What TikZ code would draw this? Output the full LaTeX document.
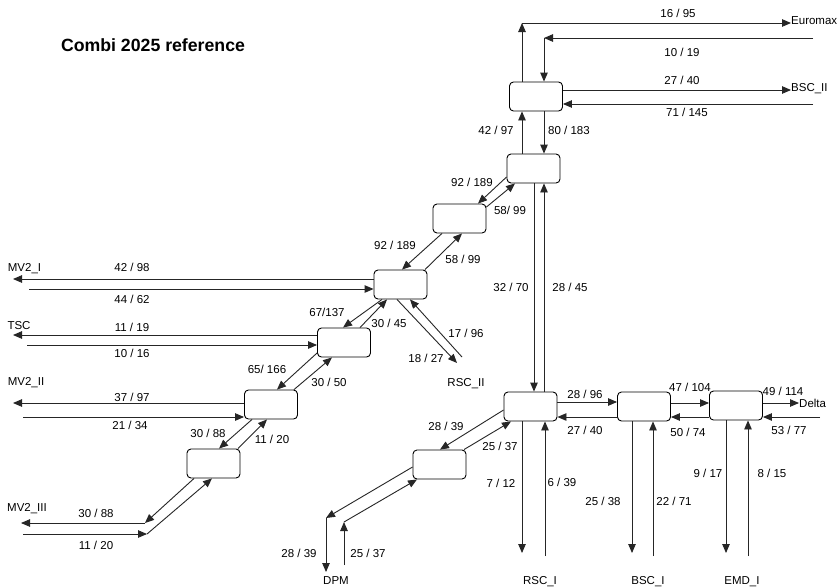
\documentclass[tikz,border=0pt]{standalone}
\usepackage{fontspec}
\setmainfont{Liberation Sans}
\usetikzlibrary{arrows.meta}
\begin{document}
\begin{tikzpicture}[x=1pt,y=-1pt,
  blk/.style={draw=black, line width=0.9pt, rounded corners=4pt, fill=white, minimum width=53pt, minimum height=29pt, inner sep=0pt},
  arr/.style={draw=black!85, line width=0.9pt, -{Triangle[length=9pt,width=7.5pt]}},
  ln/.style={draw=black!85, line width=0.9pt},
  lbl/.style={inner sep=0pt, text height=8.2pt, text depth=0pt, font=\fontsize{11.5}{13}\selectfont},
  ttl/.style={inner sep=0pt, text height=12.7pt, text depth=0pt, font=\bfseries\fontsize{17.7}{20}\selectfont}]
\useasboundingbox[fill=white] (0,0) rectangle (840,587);

% boxes
\node[blk] (A) at (536,96.5) {};
\node[blk] (B) at (533.5,168.5) {};
\node[blk] (C) at (459.5,218.5) {};
\node[blk] (D) at (400.5,284.5) {};
\node[blk] (E) at (344,342.5) {};
\node[blk] (F) at (271,404.5) {};
\node[blk] (G) at (213.5,463.5) {};
\node[blk] (H) at (530.5,406.5) {};
\node[blk] (I) at (439.5,464.5) {};
\node[blk] (J) at (644,406.5) {};
\node[blk] (K) at (736,405.5) {};

% terminal names
\node[ttl] (title) at (153,45) {Combi 2025 reference};
\node[lbl, anchor=west] (euromax) at (791,20) {Euromax};
\node[lbl, anchor=west] (bscii) at (791,87) {BSC\_II};
\node[lbl, anchor=west] (delta) at (799,403) {Delta};
\node[lbl] (mv2i) at (24.5,267) {MV2\_I};
\node[lbl] (tsc) at (19,325) {TSC};
\node[lbl] (mv2ii) at (26,381) {MV2\_II};
\node[lbl] (mv2iii) at (27,507) {MV2\_III};
\node[lbl] (rscii) at (466,382) {RSC\_II};
\node[lbl] (dpm) at (336,580) {DPM};
\node[lbl] (rsci) at (540,580) {RSC\_I};
\node[lbl] (bsci) at (648,580) {BSC\_I};
\node[lbl] (emdi) at (742,580) {EMD\_I};

% coordinates
\coordinate (c16) at (522,23);
\coordinate (r10) at (813,38);
\coordinate (c10) at (544,38);
\coordinate (r71) at (813,104);
\coordinate (x522) at (522,0);
\coordinate (x544) at (544,0);
\coordinate (x534) at (534,0);
\coordinate (rs1) at (457,363);
\coordinate (rs2) at (462,357);
\coordinate (m1a) at (13,279);
\coordinate (m1b) at (29,289);
\coordinate (t1a) at (13,335);
\coordinate (t1b) at (27,345);
\coordinate (m2a) at (13,403);
\coordinate (m2b) at (23,417);
\coordinate (m3a) at (21,523);
\coordinate (m3b) at (23,534);
\coordinate (m3c) at (145,523);
\coordinate (m3d) at (147,534);
\coordinate (d1) at (326,518);
\coordinate (d2) at (326,572);
\coordinate (d3) at (344,565);
\coordinate (d4) at (344,522);
\coordinate (r1) at (522,553);
\coordinate (r2) at (545,556);
\coordinate (hy1) at (0,402);
\coordinate (hy2) at (0,417);
\coordinate (hy3) at (0,403);
\coordinate (dl2) at (820,417);
\coordinate (b1) at (632,553);
\coordinate (b2) at (653,556);
\coordinate (e1) at (726,553);
\coordinate (e2) at (748,556);

% top connectors
\draw[arr] (A.north -| c16) -- (c16);
\draw[arr] (c16) -- (c16 -| euromax.west);
\draw[arr] (r10) -- (c10);
\draw[arr] (c10) -- (A.north -| c10);
\draw[arr] ([yshift=6.5pt]A.east) -- ([yshift=6.5pt]A.east -| bscii.west);
\draw[arr] (r71) -- (A.east |- r71);
\draw[arr] (B.north -| x522) -- (A.south -| x522);
\draw[arr] (A.south -| x544) -- (B.north -| x544);

% B - C
\draw[arr] ([shift={(0,8.5)}]B.west) -- ([shift={(18.5,0)}]C.north);
\draw[arr] ([shift={(0,-11.5)}]C.east) -- ([shift={(-18.5,0)}]B.south);
% C - D
\draw[arr] ([shift={(-17.5,0)}]C.south) -- ([shift={(1.5,0)}]D.north);
\draw[arr] ([shift={(24.5,0)}]D.north) -- ([shift={(2.5,0)}]C.south);
% D - RSC_II
\draw[arr] ([shift={(-3.5,0)}]D.south) -- (rs1);
\draw[arr] (rs2) -- ([shift={(9.5,0)}]D.south);
% MV2_I
\draw[arr] (D.west |- m1a) -- (m1a);
\draw[arr] (m1b) -- (D.west |- m1b);
% TSC
\draw[arr] (E.west |- t1a) -- (t1a);
\draw[arr] (t1b) -- (E.west |- t1b);
% D - E
\draw[arr] ([shift={(-18.5,0)}]D.south) -- ([shift={(-1,0)}]E.north);
\draw[arr] ([shift={(16,0)}]E.north) -- ([shift={(-13.5,0)}]D.south);
% E - F
\draw[arr] ([shift={(0,10.5)}]E.west) -- ([shift={(6,0)}]F.north);
\draw[arr] ([shift={(23,0)}]F.north) -- ([shift={(-12,0)}]E.south);
% MV2_II
\draw[arr] (F.west |- m2a) -- (m2a);
\draw[arr] (m2b) -- (F.west |- m2b);
% F - G
\draw[arr] ([shift={(-19,0)}]F.south) -- ([shift={(5.5,0)}]G.north);
\draw[arr] ([shift={(24.5,0)}]G.north) -- ([shift={(-4,0)}]F.south);
% G - MV2_III
\draw[arr] ([shift={(-19.5,0)}]G.south) -- (m3c);
\draw[arr] (m3c) -- (m3a);
\draw[arr] (m3b) -- (m3d);
\draw[arr] (m3d) -- ([shift={(-1.5,0)}]G.south);
% B - H
\draw[arr] (B.south -| x534) -- (H.north -| x534);
\draw[arr] (H.north -| x544) -- (B.south -| x544);
% H - I
\draw[arr] ([shift={(0,3.5)}]H.west) -- ([shift={(0.5,0)}]I.north);
\draw[arr] ([shift={(24.5,0)}]I.north) -- ([shift={(-19.5,0)}]H.south);
% I - DPM
\draw[arr] ([shift={(0,2.5)}]I.west) -- (d1);
\draw[arr] (d1) -- (d2);
\draw[arr] (d3) -- (d4);
\draw[arr] (d4) -- ([shift={(-22.5,0)}]I.south);
% H - RSC_I
\draw[arr] (H.south -| r1) -- (r1);
\draw[arr] (r2) -- (H.south -| r2);
% H - J
\draw[arr] (H.east |- hy1) -- (J.west |- hy1);
\draw[arr] (J.west |- hy2) -- (H.east |- hy2);
% J - K
\draw[arr] (J.east |- hy3) -- (K.west |- hy3);
\draw[arr] (K.west |- hy2) -- (J.east |- hy2);
% K - Delta
\draw[arr] (K.east |- hy3) -- (hy3 -| delta.west);
\draw[arr] (dl2) -- (K.east |- dl2);
% J - BSC_I
\draw[arr] (J.south -| b1) -- (b1);
\draw[arr] (b2) -- (J.south -| b2);
% K - EMD_I
\draw[arr] (K.south -| e1) -- (e1);
\draw[arr] (e2) -- (K.south -| e2);

% flow labels
\node[lbl] (l1) at (678,13) {16 / 95};
\node[lbl] (l2) at (682,52) {10 / 19};
\node[lbl] (l3) at (682,80) {27 / 40};
\node[lbl] (l4) at (687,112) {71 / 145};
\node[lbl] (l5) at (496,130) {42 / 97};
\node[lbl] (l6) at (569,130) {80 / 183};
\node[lbl] (l7) at (472,182) {92 / 189};
\node[lbl] (l8) at (510,210) {58/ 99};
\node[lbl] (l9) at (395,245) {92 / 189};
\node[lbl] (l10) at (463,259) {58 / 99};
\node[lbl] (l11) at (132,267) {42 / 98};
\node[lbl] (l12) at (132,299) {44 / 62};
\node[lbl] (l13) at (511,287) {32 / 70};
\node[lbl] (l14) at (570,287) {28 / 45};
\node[lbl] (l15) at (327,312) {67/137};
\node[lbl] (l16) at (389,323) {30 / 45};
\node[lbl] (l17) at (466,333) {17 / 96};
\node[lbl] (l18) at (426,358) {18 / 27};
\node[lbl] (l19) at (132,327) {11 / 19};
\node[lbl] (l20) at (132,353) {10 / 16};
\node[lbl] (l21) at (267,369) {65/ 166};
\node[lbl] (l22) at (329,382) {30 / 50};
\node[lbl] (l23) at (132,397) {37 / 97};
\node[lbl] (l24) at (130,425) {21 / 34};
\node[lbl] (l25) at (208,433) {30 / 88};
\node[lbl] (l26) at (272,439) {11 / 20};
\node[lbl] (l27) at (585,394) {28 / 96};
\node[lbl] (l28) at (585,430) {27 / 40};
\node[lbl] (l29) at (690,387) {47 / 104};
\node[lbl] (l30) at (688,432) {50 / 74};
\node[lbl] (l31) at (783,391) {49 / 114};
\node[lbl] (l32) at (789,430) {53 / 77};
\node[lbl] (l33) at (446,426) {28 / 39};
\node[lbl] (l34) at (500,446) {25 / 37};
\node[lbl] (l35) at (708,473) {9 / 17};
\node[lbl] (l36) at (772,473) {8 / 15};
\node[lbl] (l37) at (501,483) {7 / 12};
\node[lbl] (l38) at (562,482) {6 / 39};
\node[lbl] (l39) at (603,501) {25 / 38};
\node[lbl] (l40) at (674,501) {22 / 71};
\node[lbl] (l41) at (96,513) {30 / 88};
\node[lbl] (l42) at (96,545) {11 / 20};
\node[lbl] (l43) at (299,553) {28 / 39};
\node[lbl] (l44) at (368,553) {25 / 37};
\end{tikzpicture}
\end{document}
